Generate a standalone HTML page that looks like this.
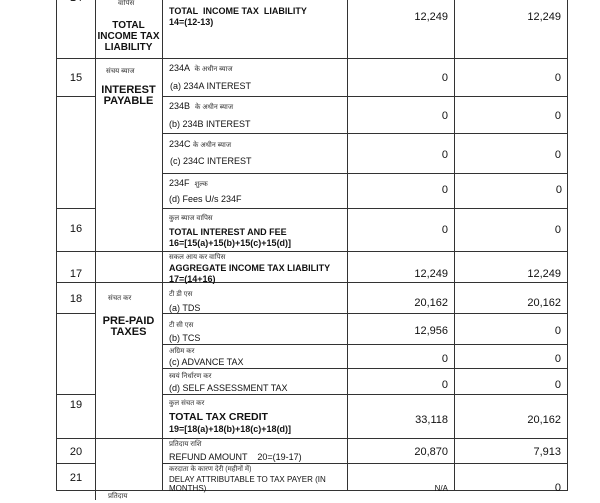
<!DOCTYPE html>
<html><head><meta charset="utf-8"><style>
body{margin:0;width:600px;height:500px;background:#fff;position:relative;overflow:hidden;font-family:"Liberation Sans","Noto Sans CJK SC",sans-serif;color:#111}
.h,.v{position:absolute;background:#333}
.h{height:1px}.v{width:1px}
.t{position:absolute;font-size:9px;line-height:12px;white-space:nowrap}
.b{font-weight:bold}
.hi{font-size:7px;color:#333}
.n{position:absolute;font-size:11px;line-height:12px;text-align:right;width:100px}
.c{position:absolute;text-align:center;font-size:10px;line-height:11px;font-weight:bold}
.num{position:absolute;font-size:11px;line-height:12px;width:40px;text-align:center}
</style></head><body>
<!-- vertical lines -->
<div class="v" style="left:56px;top:0;height:491px"></div>
<div class="v" style="left:95px;top:0;height:500px"></div>
<div class="v" style="left:162px;top:0;height:491px"></div>
<div class="v" style="left:347px;top:0;height:491px"></div>
<div class="v" style="left:454px;top:0;height:491px"></div>
<div class="v" style="left:567px;top:0;height:491px"></div>
<!-- horizontal full width lines -->
<div class="h" style="left:56px;width:512px;top:58px"></div>
<div class="h" style="left:56px;width:512px;top:251px"></div>
<div class="h" style="left:56px;width:512px;top:282px"></div>
<div class="h" style="left:56px;width:512px;top:438px"></div>
<!-- col1 + col3-5 lines -->
<div class="h" style="left:56px;width:39px;top:96px"></div>
<div class="h" style="left:56px;width:39px;top:208px"></div>
<div class="h" style="left:56px;width:39px;top:313px"></div>
<div class="h" style="left:56px;width:39px;top:394px"></div>
<div class="h" style="left:56px;width:39px;top:463px"></div>
<div class="h" style="left:56px;width:512px;top:490px"></div>
<div class="h" style="left:162px;width:406px;top:96px"></div>
<div class="h" style="left:162px;width:406px;top:133px"></div>
<div class="h" style="left:162px;width:406px;top:173px"></div>
<div class="h" style="left:162px;width:406px;top:208px"></div>
<div class="h" style="left:162px;width:406px;top:313px"></div>
<div class="h" style="left:162px;width:406px;top:344px"></div>
<div class="h" style="left:162px;width:406px;top:368px"></div>
<div class="h" style="left:162px;width:406px;top:394px"></div>
<div class="h" style="left:162px;width:406px;top:463px"></div>

<!-- col1 numbers -->
<div class="num" style="left:56px;top:-8px">14</div>
<div class="num" style="left:56px;top:72px">15</div>
<div class="num" style="left:56px;top:223px">16</div>
<div class="num" style="left:56px;top:268px">17</div>
<div class="num" style="left:56px;top:293px">18</div>
<div class="num" style="left:56px;top:399px">19</div>
<div class="num" style="left:56px;top:446px">20</div>
<div class="num" style="left:56px;top:472px">21</div>

<!-- col2 -->
<div class="t hi" style="left:118px;top:-2px">वापिस</div>
<div class="c" style="left:95px;width:67px;top:20px">TOTAL<br>INCOME TAX<br>LIABILITY</div>
<div class="t hi" style="left:106px;top:66px">संचय ब्याज</div>
<div class="c" style="left:95px;width:67px;top:85px;font-size:11px">INTEREST<br>PAYABLE</div>
<div class="t hi" style="left:108px;top:293px">संचत कर</div>
<div class="c" style="left:95px;width:67px;top:316px;font-size:11px">PRE-PAID<br>TAXES</div>
<div class="t hi" style="left:108px;top:491px">प्रतिदाय</div>

<!-- col3 -->
<div class="t b" style="left:169px;top:5px">TOTAL &nbsp;INCOME TAX &nbsp;LIABILITY</div>
<div class="t b" style="left:169px;top:16px">14=(12-13)</div>
<div class="t" style="left:169px;top:62px">234A &nbsp;<span class="hi">के अधीन ब्याज</span></div>
<div class="t" style="left:170px;top:80px">(a) 234A INTEREST</div>
<div class="t" style="left:169px;top:100px">234B &nbsp;<span class="hi">के अधीन ब्याज</span></div>
<div class="t" style="left:169px;top:118px">(b) 234B INTEREST</div>
<div class="t" style="left:169px;top:138px">234C <span class="hi">के अधीन ब्याज</span></div>
<div class="t" style="left:170px;top:155px">(c) 234C INTEREST</div>
<div class="t" style="left:169px;top:177px">234F &nbsp;<span class="hi">शुल्क</span></div>
<div class="t" style="left:169px;top:193px">(d) Fees U/s 234F</div>
<div class="t hi" style="left:169px;top:213px">कुल ब्याज वापिस</div>
<div class="t b" style="left:169px;top:226px">TOTAL INTEREST AND FEE</div>
<div class="t b" style="left:169px;top:237px">16=[15(a)+15(b)+15(c)+15(d)]</div>
<div class="t hi" style="left:169px;top:252px">सकल आय कर वापिस</div>
<div class="t b" style="left:169px;top:262px">AGGREGATE INCOME TAX LIABILITY</div>
<div class="t b" style="left:169px;top:273px">17=(14+16)</div>
<div class="t hi" style="left:169px;top:289px">टी डी एस</div>
<div class="t" style="left:169px;top:302px">(a) TDS</div>
<div class="t hi" style="left:169px;top:320px">टी सी एस</div>
<div class="t" style="left:169px;top:332px">(b) TCS</div>
<div class="t hi" style="left:169px;top:346px">अग्रिम कर</div>
<div class="t" style="left:169px;top:356px">(c) ADVANCE TAX</div>
<div class="t hi" style="left:169px;top:371px">स्वयं निर्धारण कर</div>
<div class="t" style="left:169px;top:382px">(d) SELF ASSESSMENT TAX</div>
<div class="t hi" style="left:169px;top:398px">कुल संचत कर</div>
<div class="t b" style="left:169px;top:411px;font-size:10.5px">TOTAL TAX CREDIT</div>
<div class="t b" style="left:169px;top:423px">19=[18(a)+18(b)+18(c)+18(d)]</div>
<div class="t hi" style="left:169px;top:439px">प्रतिदाय राशि</div>
<div class="t" style="left:169px;top:451px">REFUND AMOUNT &nbsp;&nbsp;&nbsp;20=(19-17)</div>
<div class="t hi" style="left:169px;top:464px">करदाता के कारण देरी (महीनों में)</div>
<div class="t" style="left:169px;top:474px;font-size:8px">DELAY ATTRIBUTABLE TO TAX PAYER (IN</div>
<div class="t" style="left:169px;top:483px;font-size:8px">MONTHS)</div>

<!-- numbers col4 (right edge 448) col5 (right edge 561) -->
<div class="n" style="left:348px;top:11px">12,249</div><div class="n" style="left:461px;top:11px">12,249</div>
<div class="n" style="left:348px;top:72px">0</div><div class="n" style="left:461px;top:72px">0</div>
<div class="n" style="left:348px;top:110px">0</div><div class="n" style="left:461px;top:110px">0</div>
<div class="n" style="left:348px;top:149px">0</div><div class="n" style="left:461px;top:149px">0</div>
<div class="n" style="left:348px;top:184px">0</div><div class="n" style="left:462px;top:184px">0</div>
<div class="n" style="left:348px;top:224px">0</div><div class="n" style="left:461px;top:224px">0</div>
<div class="n" style="left:348px;top:268px">12,249</div><div class="n" style="left:461px;top:268px">12,249</div>
<div class="n" style="left:348px;top:297px">20,162</div><div class="n" style="left:461px;top:297px">20,162</div>
<div class="n" style="left:348px;top:325px">12,956</div><div class="n" style="left:461px;top:325px">0</div>
<div class="n" style="left:348px;top:353px">0</div><div class="n" style="left:461px;top:353px">0</div>
<div class="n" style="left:348px;top:379px">0</div><div class="n" style="left:461px;top:379px">0</div>
<div class="n" style="left:348px;top:414px">33,118</div><div class="n" style="left:461px;top:414px">20,162</div>
<div class="n" style="left:348px;top:446px">20,870</div><div class="n" style="left:461px;top:446px">7,913</div>
<div class="n" style="left:348px;top:483px;font-size:8px">N/A</div><div class="n" style="left:461px;top:482px">0</div>
</body></html>
